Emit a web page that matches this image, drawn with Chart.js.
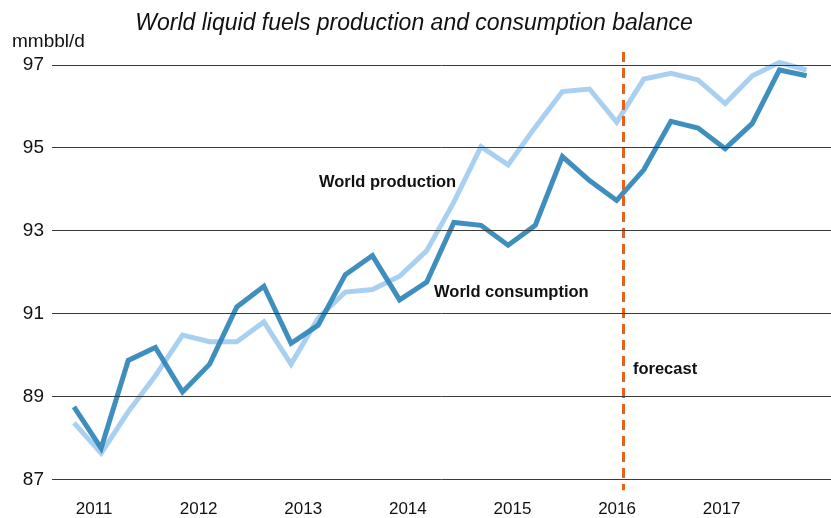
<!DOCTYPE html>
<html>
<head>
<meta charset="utf-8">
<script src="https://cdn.jsdelivr.net/npm/chart.js@4"></script>
<style>
  html, body { margin: 0; padding: 0; background: #fff; }
  #wrap { width: 831px; height: 518px; position: relative; }
</style>
</head>
<body>
<div id="wrap"><canvas id="lineChart"></canvas></div>
<script>
// quarterly, 2011 Q1 .. 2017 Q4
const quarters = ['2011Q1','2011Q2','2011Q3','2011Q4','2012Q1','2012Q2','2012Q3','2012Q4',
  '2013Q1','2013Q2','2013Q3','2013Q4','2014Q1','2014Q2','2014Q3','2014Q4',
  '2015Q1','2015Q2','2015Q3','2015Q4','2016Q1','2016Q2','2016Q3','2016Q4',
  '2017Q1','2017Q2','2017Q3','2017Q4'];
const consumption = [88.75, 87.75, 89.87, 90.18, 89.11, 89.78, 91.16, 91.66,
  90.28, 90.72, 91.94, 92.40, 91.33, 91.76, 93.20, 93.13,
  92.65, 93.13, 94.79, 94.21, 93.73, 94.47, 95.64, 95.48,
  94.98, 95.59, 96.88, 96.74];
const production = [88.36, 87.63, 88.63, 89.50, 90.48, 90.32, 90.32, 90.80,
  89.78, 90.89, 91.52, 91.58, 91.90, 92.52, 93.69, 95.03,
  94.59, 95.50, 96.36, 96.42, 95.62, 96.66, 96.80, 96.64,
  96.07, 96.74, 97.06, 96.88];
const yearLabels = ['2011', '2012', '2013', '2014', '2015', '2016', '2017'];
const yTicks = [87, 89, 91, 93, 95, 97];
const forecastAt = 20.22;   // quarter index where the forecast starts

const title = 'World liquid fuels production and consumption balance';
const unit = 'mmbbl/d';

const toPoints = arr => arr.map((v, i) => ({ x: i, y: v }));

const extras = {
  id: 'extras',
  afterDatasetsDraw(chart) {
    const { ctx, chartArea, scales } = chart;
    const x = scales.x, y = scales.y;
    ctx.save();
    // forecast divider
    const fx = Math.round(x.getPixelForValue(forecastAt)) + 0.5;
    ctx.strokeStyle = '#e8601c';
    ctx.lineWidth = 3;
    ctx.setLineDash([10, 6]);
    ctx.beginPath();
    ctx.moveTo(fx, chartArea.top - 13);
    ctx.lineTo(fx, chartArea.bottom + 11);
    ctx.stroke();
    ctx.setLineDash([]);

    // labels on the lines
    ctx.fillStyle = '#111';
    ctx.font = 'bold 16.5px "Liberation Sans", Arial, sans-serif';
    ctx.textBaseline = 'middle';
    ctx.textAlign = 'left';
    ctx.fillText('World production', x.getPixelForValue(9.03), y.getPixelForValue(94.16));
    ctx.fillText('World consumption', x.getPixelForValue(13.27), y.getPixelForValue(91.51));
    ctx.fillText('forecast', x.getPixelForValue(20.6), y.getPixelForValue(89.66));

    // title and unit
    ctx.font = 'italic 23px "Liberation Sans", Arial, sans-serif';
    ctx.textAlign = 'center';
    ctx.fillText(title, 414, 24);
    ctx.font = '19px "Liberation Sans", Arial, sans-serif';
    ctx.textAlign = 'left';
    ctx.fillText(unit, 12, 42);
    ctx.restore();
  }
};

const ctx = document.getElementById('lineChart').getContext('2d');
const chart = new Chart(ctx, {
  type: 'line',
  data: {
    datasets: [{
      label: 'World consumption',
      data: toPoints(consumption),
      borderColor: 'rgba(47, 134, 184, 0.92)',
      borderWidth: 5,
      pointRadius: 0,
      tension: 0,
      fill: false,
      clip: false
    }, {
      label: 'World production',
      data: toPoints(production),
      borderColor: 'rgba(160, 203, 238, 0.9)',
      borderWidth: 5,
      pointRadius: 0,
      tension: 0,
      fill: false,
      clip: false
    }]
  },
  options: {
    responsive: true,
    maintainAspectRatio: false,
    animation: false,
    events: [],
    layout: { padding: { top: 65, right: 0, left: 0, bottom: 0 } },
    plugins: {
      legend: { display: false },
      tooltip: { enabled: false }
    },
    scales: {
      x: {
        type: 'linear',
        min: -0.81,
        max: 27.9,
        grid: { display: false },
        border: { display: false },
        afterBuildTicks(scale) {
          scale.ticks = yearLabels.map((_, i) => ({ value: 0.74 + i * 3.855 }));
        },
        afterFit(scale) { scale.height = 38.7; },
        ticks: {
          autoSkip: false,
          maxRotation: 0,
          padding: 12,
          color: '#111',
          font: { family: '"Liberation Sans", Arial, sans-serif', size: 17 },
          callback: (v, i) => yearLabels[i]
        }
      },
      y: {
        min: 87,
        max: 97,
        afterBuildTicks(scale) {
          scale.ticks = yTicks.map(v => ({ value: v }));
        },
        afterFit(scale) { scale.width = 52; },
        grid: { color: '#3a3a3a', lineWidth: 1, drawTicks: false, z: 1 },
        border: { display: false },
        ticks: {
          padding: 8,
          color: '#111',
          font: { family: '"Liberation Sans", Arial, sans-serif', size: 19 }
        }
      }
    }
  },
  plugins: [extras]
});
</script>
</body>
</html>
